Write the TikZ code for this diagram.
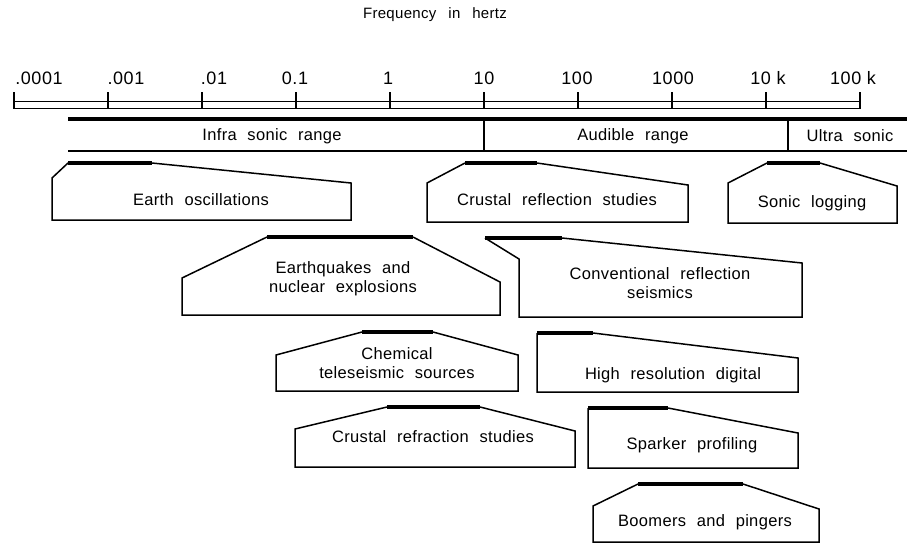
\documentclass[tikz,border=0pt]{standalone}
\usepackage{fontspec}
\setmainfont{Liberation Sans}[LetterSpace=2]
\newfontfamily\tickfamily{Liberation Sans}[LetterSpace=3]
\newcommand{\boxfont}{\fontsize{16.5}{19}\selectfont\spaceskip=0.65em\relax}
\newcommand{\titlefont}{\fontsize{15}{17}\selectfont\spaceskip=0.8em\relax}
\newcommand{\tickfont}{\tickfamily\fontsize{18}{20}\selectfont}
\begin{document}
\begin{tikzpicture}[x=1pt,y=-1pt,
	outline/.style={line width=1.5pt, line join=miter},
	band/.style={line width=4pt},
	lbl/.style={inner sep=0pt, align=center, font=\boxfont},
	ticklbl/.style={inner sep=0pt, font=\tickfont}]
	\useasboundingbox (0,0) rectangle (907,544);
	
	\node[lbl, font=\titlefont] (title) at (435,15) {Frequency in hertz};
	
	% frequency axis
	\draw[outline] (14,92) -- (14,108.5) -- (860,108.5) -- (860,92);
	\draw[outline] (14,101.5) -- (860,101.5);
	\foreach \i in {1,...,8}
		\draw[outline] ({14+94*\i},92) -- ({14+94*\i},108.5);
	\foreach \x/\t [count=\n] in {39/.0001, 126/.001, 214/.01, 295/0.1, 388/1, 484/10, 577/100, 673/1000, 768/10 k, 853/100 k}
		\node[ticklbl] (tick\n) at (\x,78) {\t};
	
	% ranges
	\draw[band, line width=4.5pt] (68,119) -- (907,119);
	\draw[outline] (68,151) -- (907,151);
	\draw[outline] (484,119) -- (484,151);
	\draw[outline] (788,119) -- (788,151);
	\node[lbl] (infra) at (272,136) {Infra sonic range};
	\node[lbl] (audible) at (633,136) {Audible range};
	\node[lbl] (ultra) at (850,136) {Ultra sonic};
	
	% method boxes: band from \a to \b at \t, left side \l (top \lt), right side \r (top \rt), bottom \bt
	\foreach \a/\b/\t/\l/\lt/\r/\rt/\bt in {
		68/152/163/52/178/351/183/220,
		267/413/237/182/278/500/282/315,
		465/537/163/427/183/688/185/222,
		767/820/163/728/183/897/186/223,
		485/562/238/519/259/802/263/317,
		362/433/332/276/355/518/355/391,
		387/480/407/295/429/575/431/467,
		537/593/333/537/333/798/358/392,
		588/668/408/588/408/798/433/468,
		638/743/484/593/506/819/509/542}
	{
		\draw[outline] (\a,\t) -- (\l,\lt) -- (\l,\bt) -- (\r,\bt) -- (\r,\rt) -- (\b,\t);
		\draw[band] (\a,\t) -- (\b,\t);
	}
	
	\node[lbl] (earth) at (201,200) {Earth oscillations};
	\node[lbl] (quakes) at (343,279) {Earthquakes and\\nuclear explosions};
	\node[lbl] (crustrefl) at (557,200) {Crustal reflection studies};
	\node[lbl] (sonic) at (812,203) {Sonic logging};
	\node[lbl] (conv) at (660,283) {Conventional reflection\\seismics};
	\node[lbl] (chem) at (397,363) {Chemical\\teleseismic sources};
	\node[lbl] (crustrefr) at (433,437) {Crustal refraction studies};
	\node[lbl] (hires) at (673,375) {High resolution digital};
	\node[lbl] (sparker) at (692,445) {Sparker profiling};
	\node[lbl] (boomers) at (705,522) {Boomers and pingers};
\end{tikzpicture}
\end{document}
